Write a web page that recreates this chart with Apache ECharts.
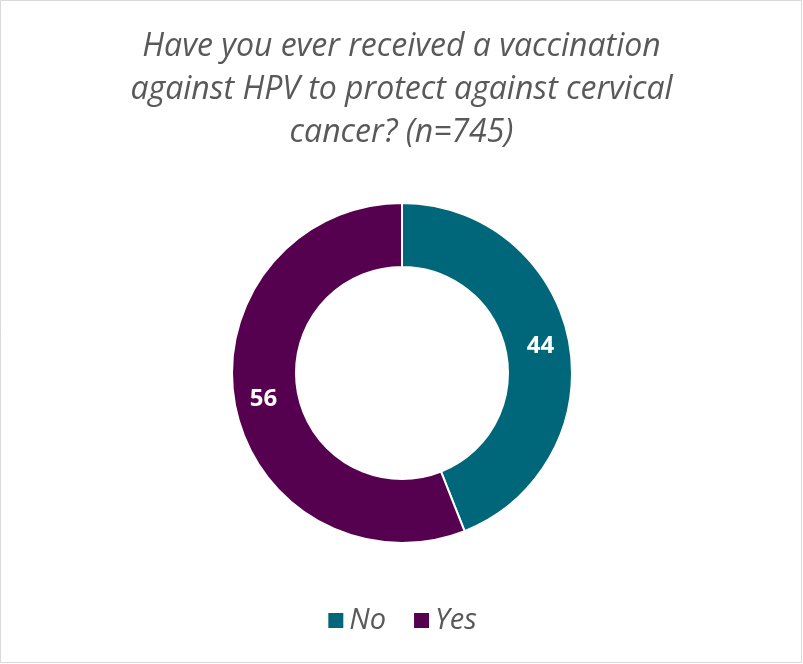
<!DOCTYPE html>
<html><head><meta charset="utf-8">
<script src="https://cdn.jsdelivr.net/npm/echarts@6/dist/echarts.min.js"></script>
<style>html,body{margin:0;padding:0;background:#fff}#c{width:803px;height:664px}</style>
</head><body><div id="c"></div>
<script>
const categories = ["No", "Yes"];
const values = [44, 56];
const colors = ["#00677A", "#560050"];
const titleText = "Have you ever received a vaccination\nagainst HPV to protect against cervical\ncancer? (n=745)";
const chart = echarts.init(document.getElementById('c'));
chart.setOption({
  animation: false,
  graphic: [{type:'rect', shape:{x:0.5,y:0.5,width:801,height:662}, style:{fill:'none', stroke:'#d9d9d9', lineWidth:1}}],
  title: {text: titleText, left: 'center', top: 20, textStyle:{fontFamily:'Open Sans', fontStyle:'italic', fontWeight:'normal', fontSize:32, color:'#595959', lineHeight:43}},
  legend: {bottom: 24, left:'center', itemWidth:17, itemHeight:17, itemGap:26, icon:'rect', data: categories,
    textStyle:{fontFamily:'Open Sans', fontStyle:'italic', fontSize:29, color:'#595959'}},
  series: [{
    type:'pie', center:[402,373], radius:[106,170], startAngle:90, clockwise:true,
    itemStyle:{borderColor:'#fff', borderWidth:2},
    label:{show:true, position:'inside', formatter:'{c}', color:'#fff', fontFamily:'Open Sans', fontWeight:'bold', fontSize:24},
    labelLine:{show:false},
    data: categories.map((n,i)=>({name:n, value:values[i], itemStyle:{color:colors[i]}}))
  }]
});
</script></body></html>
